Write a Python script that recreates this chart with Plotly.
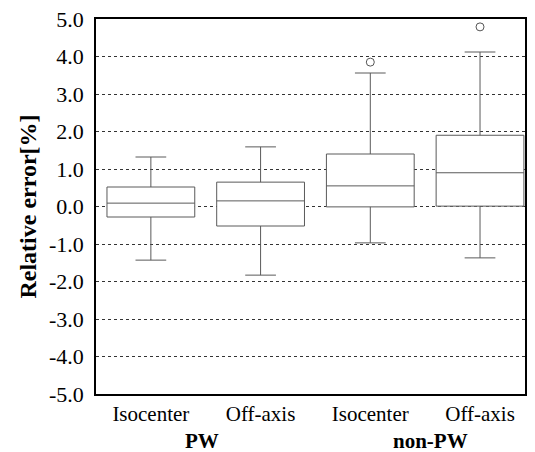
import plotly.graph_objects as go

categories = ["Isocenter", "Off-axis", "Isocenter", "Off-axis"]
groups = ["PW", "non-PW"]
lower_whisker = [-1.43, -1.83, -0.97, -1.37]
q1 = [-0.28, -0.52, -0.01, 0.01]
median = [0.09, 0.15, 0.55, 0.90]
q3 = [0.52, 0.65, 1.40, 1.90]
upper_whisker = [1.32, 1.59, 3.56, 4.12]
outlier_x = [2, 3]
outlier_y = [3.85, 4.79]
tick_vals = [5, 4, 3, 2, 1, 0, -1, -2, -3, -4, -5]
tick_text = ["5.0", "4.0", "3.0", "2.0", "1.0", "0.0", "-1.0", "-2.0", "-3.0", "-4.0", "-5.0"]

font = "Liberation Serif"
xs = list(range(len(categories)))

fig = go.Figure()
fig.add_trace(go.Box(
    x=xs, q1=q1, median=median, q3=q3,
    lowerfence=lower_whisker, upperfence=upper_whisker,
    width=0.8, whiskerwidth=0.35,
    fillcolor="white", line=dict(color="#5a5a5a", width=1),
    boxpoints=False, showlegend=False, hoverinfo="skip",
))
fig.add_trace(go.Scatter(
    x=outlier_x, y=outlier_y, mode="markers",
    marker=dict(symbol="circle-open", size=8, color="#555555", line=dict(width=1)),
    showlegend=False, hoverinfo="skip",
))

fig.update_layout(
    width=535, height=452,
    margin=dict(l=96, r=10, t=19, b=58),
    paper_bgcolor="white", plot_bgcolor="white",
    font=dict(family=font, size=21, color="black"),
    xaxis=dict(
        range=[-0.5, 3.41], tickvals=xs, ticktext=categories, automargin=False,
        showgrid=False, zeroline=False, showline=True, linecolor="black",
        linewidth=1.5, mirror=True, ticks="", tickfont=dict(size=21, family=font),
    ),
    yaxis=dict(
        range=[-5, 5], tickvals=tick_vals, ticktext=tick_text, automargin=False,
        showgrid=True, gridcolor="#333333", griddash="dot", gridwidth=1,
        zeroline=False, showline=True, linecolor="black", linewidth=1.5,
        mirror=True, ticks="", tickfont=dict(size=22, family=font),
        ticklabelstandoff=6,
        title=dict(text="<b>Relative error[%]</b>", font=dict(size=24, family=font), standoff=6),
    ),
)
for gx, label in zip([0.47, 2.55], groups):
    fig.add_annotation(
        x=gx, y=-0.125, xref="x", yref="paper", text="<b>" + label + "</b>",
        showarrow=False, font=dict(size=21, family=font), yanchor="middle",
    )

fig.write_html("out.html")
